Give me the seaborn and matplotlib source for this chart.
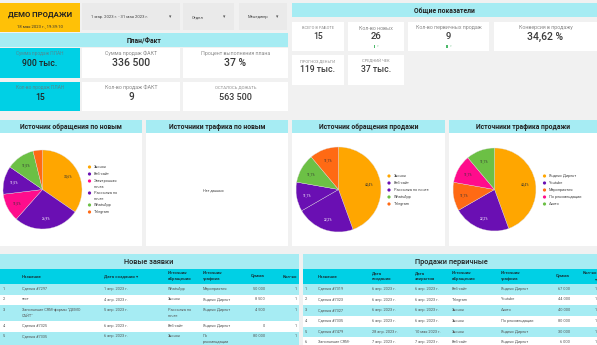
import textwrap
import matplotlib
matplotlib.use("Agg")
import matplotlib.pyplot as plt
import seaborn as sns
from matplotlib.patches import Rectangle, Ellipse

# ---------------- data ----------------
title = "ДЕМО ПРОДАЖИ"
timestamp = "18 мая 2023 г., 19:39:10"
date_range = "1 мар. 2023 г. - 31 мая 2023 г."
filters = ["Отдел", "Менеджер"]

plan_labels = ["Сумма продаж ПЛАН", "Сумма продаж ФАКТ", "Процент выполнения плана",
               "Кол-во продаж ПЛАН", "Кол-во продаж ФАКТ", "ОСТАЛОСЬ ДОЖАТЬ"]
plan_values = ["900 тыс.", "336 500", "37 %", "15", "9", "563 500"]

general_labels = ["ВСЕГО В РАБОТЕ", "Кол-во новых", "Кол-во первичных продаж",
                  "Конверсия в продажу", "ПРОГНОЗ ДЕНЬГИ", "СРЕДНИЙ ЧЕК"]
general_values = ["15", "26", "9", "34,62 %", "119 тыс.", "37 тыс."]

new_source_cats = ["Звонок", "Веб-сайт", "Электронная почта", "Рассылка по почте", "WhatsApp", "Telegram"]
new_source_vals = [9, 7, 3, 3, 3, 1]

sale_source_cats = ["Звонок", "Веб-сайт", "Рассылка по почте", "WhatsApp", "Telegram"]
sale_source_vals = [4, 2, 1, 1, 1]

sale_traffic_cats = ["Яндекс Директ", "Youtube", "Мероприятия", "По рекомендации", "Авито"]
sale_traffic_vals = [4, 2, 1, 1, 1]

new_cols = ["Название", "Дата создания ▾", "Источник обращения", "Источник трафика", "Сумма", "Кол-во"]
new_names = ["Сделка #7297", "тест", "Заполнение CRM-формы \"ДЕМО САЙТ\"", "Сделка #7325", "Сделка #7335"]
new_dates = ["1 апр. 2023 г.", "4 апр. 2023 г.", "5 апр. 2023 г.", "6 апр. 2023 г.", "6 апр. 2023 г."]
new_src = ["WhatsApp", "Звонок", "Рассылка по почте", "Веб-сайт", "Звонок"]
new_trf = ["Мероприятия", "Яндекс Директ", "Яндекс Директ", "Яндекс Директ", "По рекомендации"]
new_sum = ["50 000", "8 500", "4 500", "0", "80 000"]
new_qty = ["1", "1", "1", "1", "1"]

sale_cols = ["Название", "Дата создания", "Дата закрытия", "Источник обращения", "Источник трафика", "Сумма", "Кол-во ▾"]
sale_names = ["Сделка #7319", "Сделка #7323", "Сделка #7327", "Сделка #7335", "Сделка #7479",
              "Заполнение CRM-формы \"ДЕМО САЙТ\""]
sale_created = ["6 апр. 2023 г.", "6 апр. 2023 г.", "6 апр. 2023 г.", "6 апр. 2023 г.", "28 апр. 2023 г.", "7 апр. 2023 г."]
sale_closed = ["6 апр. 2023 г.", "6 апр. 2023 г.", "6 апр. 2023 г.", "6 апр. 2023 г.", "10 мая 2023 г.", "7 апр. 2023 г."]
sale_src = ["Веб-сайт", "Telegram", "Звонок", "Звонок", "Звонок", "Веб-сайт"]
sale_trf = ["Яндекс Директ", "Youtube", "Авито", "По рекомендации", "Яндекс Директ", "Яндекс Директ"]
sale_sum = ["67 000", "44 000", "40 000", "80 000", "30 000", "6 000"]
sale_qty = ["1", "1", "1", "1", "1", "1"]

# ---------------- style ----------------
sns.set_theme(style="white")
plt.rcParams["font.family"] = ["Roboto", "DejaVu Sans"]

BG = "#F1F1F1"
LCYAN = "#A6ECF3"
CYAN = "#00D0E5"
YELLOW = "#FFC107"
FILTER = "#EAEAEA"
ORANGE, PURPLE, PINK, GREEN, REDOR = "#FFA600", "#6A0FB3", "#FF0C8C", "#6CC045", "#FF6A14"
src_colors = dict(zip(["Звонок", "Веб-сайт", "Электронная почта", "Рассылка по почте", "WhatsApp", "Telegram"],
                      sns.color_palette([ORANGE, PURPLE, PINK, PURPLE, GREEN, REDOR])))
trf_colors = dict(zip(["Яндекс Директ", "Youtube", "Мероприятия", "По рекомендации", "Авито"],
                      sns.color_palette([ORANGE, PURPLE, REDOR, PINK, GREEN])))
PURPLE_RGB = sns.color_palette([PURPLE])[0]
DARK = "#222222"
GREY = "#555555"
LBL = "#8a8a8a"

W, H = 597, 345
fig = plt.figure(figsize=(W / 100, H / 100), dpi=100)
fig.patch.set_facecolor(BG)


def fx(x):
    return x / W


def fy(y):
    return 1 - y / H


def box(x0, y0, x1, y1, color):
    fig.add_artist(Rectangle((fx(x0), fy(y1)), (x1 - x0) / W, (y1 - y0) / H,
                             transform=fig.transFigure, facecolor=color, lw=0, zorder=0.5))


def txt(x, y, s, size, color=DARK, ha="center", weight="normal", va="center"):
    fig.text(fx(x), fy(y), s, fontsize=size, color=color, ha=ha, va=va, weight=weight, zorder=6)


# ---------------- header ----------------
box(0, 3, 80, 32, YELLOW)
txt(40, 14, title, 5.6, weight="bold")
txt(40, 26, timestamp, 3.0, color="#333333")
box(82, 3, 180, 30, FILTER)
txt(91, 17, date_range, 3.0, color="#444444", ha="left")
txt(170, 17, "▾", 3.4, color="#555555")
for (x0, x1), f in zip([(183, 234), (239, 287)], filters):
    box(x0, 3, x1, 30, FILTER)
    txt(x0 + 9, 17, f, 3.0, color="#444444", ha="left")
    txt(x1 - 10, 17, "▾", 3.4, color="#555555")

# ---------------- План/Факт ----------------
box(0, 33, 288, 47, LCYAN)
txt(144, 40.5, "План/Факт", 4.9, weight="bold")
plan_boxes = [(0, 48, 80, 78), (82, 48, 180, 78), (183, 48, 288, 78),
              (0, 82, 80, 111), (82, 82, 180, 111), (183, 82, 288, 111)]
plan_sizes = [6.2, 7.5, 7.5, 6.2, 7.2, 6.5]
for i, ((x0, y0, x1, y1), lab, val) in enumerate(zip(plan_boxes, plan_labels, plan_values)):
    cyan = i % 3 == 0
    box(x0, y0, x1, y1, CYAN if cyan else "white")
    cx = (x0 + x1) / 2
    lsize = 3.1 if lab.isupper() else (3.4 if cyan else 3.8)
    txt(cx, y0 + 5.5, lab, lsize, color="#4f8a94" if cyan else LBL)
    txt(cx, y0 + 15.5, val, plan_sizes[i], color=DARK if cyan else "#3a3a3a",
        weight="medium")

# ---------------- Общие показатели ----------------
box(292, 3, 597, 17, LCYAN)
txt(444, 10.5, "Общие показатели", 4.9, weight="bold")
gen_boxes = [(292, 22, 344, 51), (348, 22, 404, 51), (408, 22, 489, 51),
             (494, 22, 597, 51), (292, 55, 344, 85), (348, 55, 404, 85)]
gen_sizes = [6.2, 6.8, 6.8, 7.5, 6.2, 6.2]
for i, ((x0, y0, x1, y1), lab, val) in enumerate(zip(gen_boxes, general_labels, general_values)):
    box(x0, y0, x1, y1, "white")
    cx = (x0 + x1) / 2
    lsize = 2.9 if lab.isupper() else 3.8
    txt(cx, y0 + 6, lab, lsize, color=LBL)
    txt(cx, y0 + 14.5, val, gen_sizes[i], color="#3a3a3a", weight="medium")
    if i in (1, 2):
        box(cx - 2.5, y0 + 22.5, cx - 1, y0 + 26, "#4CB96A")
        txt(cx + 2, y0 + 24.5, "▾", 2.4, color="#9fd8b0")


# ---------------- pies ----------------
def pct(p):
    return f"{p:.1f}%".replace(".", ",") if p > 5 else ""


def pie(cx, cy, r, vals, cats, cmap):
    ax = fig.add_axes([fx(cx - r), fy(cy + r), 2 * r / W, 2 * r / H])
    ax.set_zorder(5)
    ax.patch.set_alpha(0)
    cols = [cmap[c] for c in cats]
    wedges, texts, autos = ax.pie(vals, colors=cols, startangle=90, counterclock=False,
                                  autopct=pct, pctdistance=0.74,
                                  wedgeprops=dict(linewidth=0.25, edgecolor="#dddddd"),
                                  textprops=dict(fontsize=2.3))
    for a, c in zip(autos, cols):
        a.set_color("white" if tuple(c) == tuple(PURPLE_RGB) else "#333333")
    ax.set_xlim(-1, 1)
    ax.set_ylim(-1, 1)
    ax.axis("off")


def legend(mx, y, cats, cmap, wrap=None):
    for c in cats:
        lines = textwrap.wrap(c, wrap) if wrap else [c]
        fig.add_artist(Ellipse((fx(mx), fy(y)), 3.2 / W, 3.2 / H, transform=fig.transFigure,
                               facecolor=cmap[c], lw=0, zorder=6))
        for k, ln in enumerate(lines):
            txt(mx + 4.5, y + 5.5 * k, ln, 2.8, color="#444444", ha="left")
        y += 7 + 5 * (len(lines) - 1)


panels = [(0, 142, "Источник обращения по новым"), (146, 288, "Источники трафика по новым"),
          (292, 445, "Источник обращения продажи"), (449, 597, "Источники трафика продажи")]
for x0, x1, t in panels:
    box(x0, 120, x1, 133, LCYAN)
    box(x0, 133, x1, 246, "white")
    txt((x0 + x1) / 2, 126.8, t, 4.9, weight="bold")
txt(213, 190, "Нет данных", 2.7, color="#444444")

pie(42.5, 189.5, 39.5, new_source_vals, new_source_cats, src_colors)
legend(89.5, 167, new_source_cats, src_colors, wrap=11)
pie(338.5, 189.5, 42.5, sale_source_vals, sale_source_cats, src_colors)
legend(389, 176, sale_source_cats, src_colors)
pie(494.5, 189.5, 41.5, sale_traffic_vals, sale_traffic_cats, trf_colors)
legend(544.5, 176, sale_traffic_cats, trf_colors)


# ---------------- tables ----------------
def table(x0, x1, title_txt, title_x, headers, hx, halign, hwrap, rows, cwrap, numx):
    box(x0, 254, x1, 269, LCYAN)
    txt(title_x, 261.5, title_txt, 5.3, weight="medium")
    box(x0, 269, x1, 284, CYAN)
    for h, x, al, w in zip(headers, hx, halign, hwrap):
        lines = textwrap.wrap(h, w) if w else [h]
        if len(lines) == 1:
            txt(x, 276.5, lines[0], 3.2, color="#143a42", ha=al, weight="bold")
        else:
            for k, ln in enumerate(lines):
                txt(x, 273.5 + 5.3 * k, ln, 3.2, color="#143a42", ha=al, weight="bold")
    y = 284
    for ri, row in enumerate(rows):
        cells = [textwrap.wrap(v, w) if w else [v] for v, w in zip(row, cwrap)]
        n = max(len(c) for c in cells)
        h = 10.7 + 4.8 * (n - 1)
        box(x0, y, x1, min(y + h, H), LCYAN if ri % 2 == 0 else "white")
        txt(numx, y + 4.8, f"{ri + 1}.", 2.8, color=GREY, ha="left")
        for c, x, al in zip(cells, hx, halign):
            for k, ln in enumerate(c):
                ly = y + 4.8 + 5.5 * k
                if ly < H - 2:  # lines below the frame edge are not visible
                    txt(x, ly, ln, 2.8, color=GREY, ha=al)
        y += h


rows1 = list(zip(new_names, new_dates, new_src, new_trf, new_sum, new_qty))
table(0, 299, "Новые заявки", 149, new_cols,
      [22, 104, 168, 203, 265, 297], ["left", "left", "left", "left", "right", "right"],
      [None, None, 10, 10, None, None], rows1, [26, None, 11, 13, None, None], 3)

rows2 = list(zip(sale_names, sale_created, sale_closed, sale_src, sale_trf, sale_sum, sale_qty))
table(303, 597, "Продажи первичные", 451, sale_cols,
      [318, 372, 415, 452, 501, 570, 597], ["left", "left", "left", "left", "left", "right", "right"],
      [None, 9, 9, 10, 10, None, 6], rows2, [16, None, None, None, None, None, None], 305)

fig.savefig("out.png", dpi=100, facecolor=BG)
